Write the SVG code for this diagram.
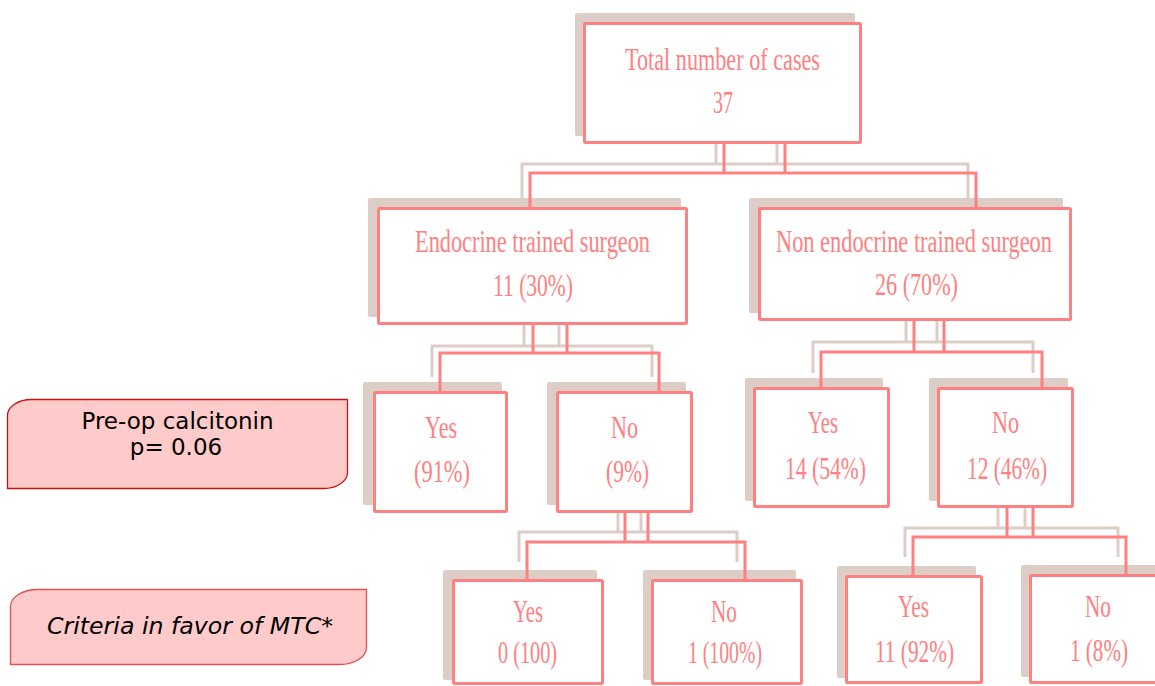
<svg xmlns="http://www.w3.org/2000/svg" width="1155" height="686" viewBox="0 0 1155 686">
<style>
.sh{fill:#ddcdc7}
.shc{fill:none;stroke:#ddcdc7;stroke-width:3}
.pc{fill:none;stroke:#ff8080;stroke-width:3}
.bx{fill:#ffffff;stroke:#ff8080;stroke-width:3}
.t{font-family:"Liberation Serif","Times New Roman",serif;font-size:31px;fill:#ff8080}
.lab{font-family:"DejaVu Sans",Verdana,sans-serif;font-size:23px;fill:#000000;text-anchor:middle}
</style>
<rect width="1155" height="686" fill="#ffffff"/>
<g id="shadows">
<rect class="sh" x="575" y="13" width="280" height="123" rx="2"/>
<rect class="sh" x="368" y="198" width="313" height="119" rx="2"/>
<rect class="sh" x="749" y="198" width="314" height="115" rx="2"/>
<rect class="sh" x="363" y="382" width="139" height="123" rx="2"/>
<rect class="sh" x="547" y="382" width="139" height="123" rx="2"/>
<rect class="sh" x="745" y="378" width="138" height="123" rx="2"/>
<rect class="sh" x="929" y="378" width="139" height="123" rx="2"/>
<rect class="sh" x="443" y="570" width="154" height="110" rx="2"/>
<rect class="sh" x="643" y="570" width="153" height="110" rx="2"/>
<rect class="sh" x="837" y="566" width="139" height="112" rx="2"/>
<rect class="sh" x="1021" y="565" width="139" height="112" rx="2"/>
</g>
<g id="connectors">
<g id="shadow-connectors">
<path class="shc" d="M522,198 V164 H968 V198 M716,136 V164 M777,136 V164"/>
<path class="shc" d="M432,377 V346 H652 V377 M524,317 V346 M559,317 V346"/>
<path class="shc" d="M813,373 V342 H1033 V373 M906,313 V342 M937,313 V342"/>
<path class="shc" d="M519,562 V532 H737 V562 M618,505 V532 M641,505 V532"/>
<path class="shc" d="M905,557 V528 H1118 V557 M998,501 V528 M1025,501 V528"/>
</g>
<g id="main-connectors">
<path class="pc" d="M530,208 V173 H976 V208 M724,144 V173 M785,144 V173"/>
<path class="pc" d="M440,391 V353 H659 V391 M533,325 V353 M567,325 V353"/>
<path class="pc" d="M821,387 V352 H1042 V387 M914,320 V352 M944,320 V352"/>
<path class="pc" d="M527,579 V542 H745 V579 M625,513 V542 M648,513 V542"/>
<path class="pc" d="M913,575 V537 H1126 V575 M1007,508 V537 M1033,508 V537"/>
</g>
</g>
<g id="node-total">
<rect class="bx" x="584.5" y="23.5" width="276" height="119" rx="1"/>
<text class="t" x="625" y="70" textLength="195" lengthAdjust="spacingAndGlyphs">Total number of cases</text>
<text class="t" x="713" y="113" textLength="20" lengthAdjust="spacingAndGlyphs">37</text>
</g>
<g id="node-endocrine">
<rect class="bx" x="378.5" y="208.5" width="308" height="115" rx="1"/>
<text class="t" x="415" y="252" textLength="235" lengthAdjust="spacingAndGlyphs">Endocrine trained surgeon</text>
<text class="t" x="493" y="296" textLength="80" lengthAdjust="spacingAndGlyphs">11 (30%)</text>
</g>
<g id="node-nonendocrine">
<rect class="bx" x="759.5" y="208.5" width="311" height="111" rx="1"/>
<text class="t" x="776" y="252" textLength="276" lengthAdjust="spacingAndGlyphs">Non endocrine trained surgeon</text>
<text class="t" x="875" y="295" textLength="83" lengthAdjust="spacingAndGlyphs">26 (70%)</text>
</g>
<g id="node-e-yes">
<rect class="bx" x="374.5" y="392.5" width="132" height="119" rx="1"/>
<text class="t" x="425" y="438" textLength="32" lengthAdjust="spacingAndGlyphs">Yes</text>
<text class="t" x="414" y="482" textLength="56" lengthAdjust="spacingAndGlyphs">(91%)</text>
</g>
<g id="node-e-no">
<rect class="bx" x="557.5" y="392.5" width="134" height="119" rx="1"/>
<text class="t" x="611" y="438" textLength="27" lengthAdjust="spacingAndGlyphs">No</text>
<text class="t" x="606" y="482" textLength="43" lengthAdjust="spacingAndGlyphs">(9%)</text>
</g>
<g id="node-n-yes">
<rect class="bx" x="754.5" y="388.5" width="134" height="118" rx="1"/>
<text class="t" x="808" y="433" textLength="30" lengthAdjust="spacingAndGlyphs">Yes</text>
<text class="t" x="785" y="479" textLength="81" lengthAdjust="spacingAndGlyphs">14 (54%)</text>
</g>
<g id="node-n-no">
<rect class="bx" x="938.5" y="388.5" width="134" height="118" rx="1"/>
<text class="t" x="992" y="433" textLength="27" lengthAdjust="spacingAndGlyphs">No</text>
<text class="t" x="967" y="479" textLength="80" lengthAdjust="spacingAndGlyphs">12 (46%)</text>
</g>
<g id="node-en-yes">
<rect class="bx" x="453.5" y="580.5" width="149" height="103" rx="1"/>
<text class="t" x="513" y="622" textLength="30" lengthAdjust="spacingAndGlyphs">Yes</text>
<text class="t" x="498" y="663" textLength="59" lengthAdjust="spacingAndGlyphs">0 (100)</text>
</g>
<g id="node-en-no">
<rect class="bx" x="652.5" y="580.5" width="149" height="103" rx="1"/>
<text class="t" x="711" y="622" textLength="26" lengthAdjust="spacingAndGlyphs">No</text>
<text class="t" x="688" y="663" textLength="74" lengthAdjust="spacingAndGlyphs">1 (100%)</text>
</g>
<g id="node-nn-yes">
<rect class="bx" x="846.5" y="576.5" width="135" height="106" rx="1"/>
<text class="t" x="898" y="617" textLength="31" lengthAdjust="spacingAndGlyphs">Yes</text>
<text class="t" x="875" y="662" textLength="79" lengthAdjust="spacingAndGlyphs">11 (92%)</text>
</g>
<g id="node-nn-no">
<rect class="bx" x="1030.5" y="575.5" width="136" height="107" rx="1"/>
<text class="t" x="1085" y="617" textLength="26" lengthAdjust="spacingAndGlyphs">No</text>
<text class="t" x="1070" y="661" textLength="58" lengthAdjust="spacingAndGlyphs">1 (8%)</text>
</g>
<g id="label-calcitonin">
<path d="M7.5,415 A24,16 0 0 1 31.5,399.5 H347.5 V473 A24,16 0 0 1 323.5,488.5 H7.5 Z" fill="#ffcaca" stroke="#c81010" stroke-width="1.3"/>
<text class="lab" x="177.5" y="429">Pre-op calcitonin</text>
<text class="lab" x="176" y="455">p= 0.06</text>
</g>
<g id="label-criteria">
<path d="M10.5,606 A27,17 0 0 1 37.5,589.5 H366.5 V648 A27,17 0 0 1 339.5,664.5 H10.5 Z" fill="#ffcaca" stroke="#e05050" stroke-width="1.3"/>
<text class="lab" x="190" y="634" font-style="italic" textLength="286" lengthAdjust="spacingAndGlyphs">Criteria in favor of MTC*</text>
</g>
</svg>
